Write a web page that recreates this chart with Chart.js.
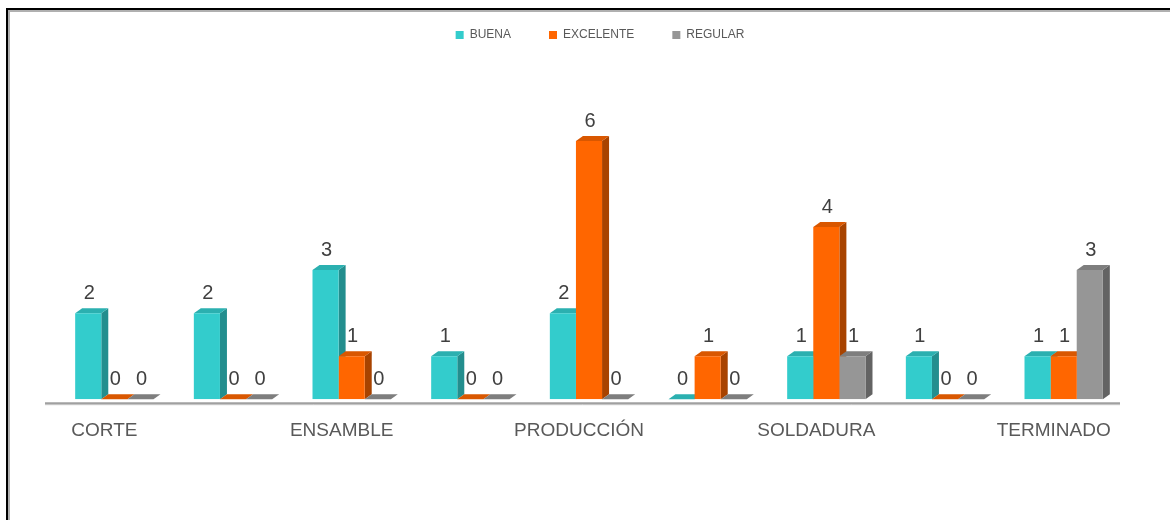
<!DOCTYPE html>
<html>
<head>
<meta charset="utf-8">
<script src="https://cdn.jsdelivr.net/npm/chart.js@4.4.1/dist/chart.umd.min.js"></script>
<style>
  html, body { margin: 0; padding: 0; background: #fff; overflow: hidden; }
  .frame {
    position: absolute; left: 6px; top: 8px; width: 1300px; height: 700px;
    border-left: 2px solid #000; border-top: 2px solid #000;
    box-shadow: inset 2px 2px 0 #b0b0b0;
  }
  .wrap { position: absolute; left: 0; top: 0; width: 1170px; height: 520px; }
</style>
</head>
<body>
<div class="frame"></div>
<div class="wrap"><canvas id="areasChart" width="1170" height="520"></canvas></div>
<script>
// Evaluación por área
const areas = ['CORTE', '', 'ENSAMBLE', '', 'PRODUCCIÓN', '', 'SOLDADURA', '', 'TERMINADO'];
const buena = [2, 2, 3, 1, 2, 0, 1, 1, 1];
const excelente = [0, 0, 1, 0, 6, 1, 4, 0, 1];
const regular = [0, 0, 0, 0, 0, 0, 1, 0, 3];

// front / side / top shades for the fake 3D columns
const shades = [
  { front: '#33CCCC', side: '#238E8E', top: '#2BB0B0' },
  { front: '#FF6600', side: '#A84300', top: '#D95700' },
  { front: '#969696', side: '#636363', top: '#7E7E7E' }
];
const DX = 7, DY = 5;
const FONT = '"Liberation Sans", Arial, sans-serif';

// side and top faces drawn before the fronts so neighbours overlap correctly
const columns3d = {
  id: 'columns3d',
  beforeDatasetsDraw(chart) {
    const ctx = chart.ctx;
    ctx.save();
    chart.data.datasets.forEach((ds, i) => {
      const meta = chart.getDatasetMeta(i);
      meta.data.forEach(bar => {
        const l = bar.x - bar.width / 2, r = bar.x + bar.width / 2;
        const t = bar.y, b = bar.base;
        ctx.fillStyle = shades[i].side;
        ctx.beginPath();
        ctx.moveTo(r, t); ctx.lineTo(r + DX, t - DY);
        ctx.lineTo(r + DX, b - DY); ctx.lineTo(r, b);
        ctx.closePath(); ctx.fill();
        ctx.fillStyle = shades[i].top;
        ctx.beginPath();
        ctx.moveTo(l, t); ctx.lineTo(l + DX, t - DY);
        ctx.lineTo(r + DX, t - DY); ctx.lineTo(r, t);
        ctx.closePath(); ctx.fill();
      });
    });
    ctx.restore();
  },
  afterDatasetsDraw(chart) {
    const ctx = chart.ctx;
    ctx.save();
    ctx.font = '20px ' + FONT;
    ctx.fillStyle = '#404040';
    ctx.textAlign = 'center';
    ctx.textBaseline = 'middle';
    chart.data.datasets.forEach((ds, i) => {
      chart.getDatasetMeta(i).data.forEach((bar, j) => {
        ctx.fillText(String(ds.data[j]), bar.x + 1, bar.y - 20);
      });
    });
    ctx.restore();
  }
};

// floor line slightly below the columns
const floorLine = {
  id: 'floorLine',
  beforeDatasetsDraw(chart) {
    const { ctx, chartArea } = chart;
    ctx.save();
    ctx.strokeStyle = '#c8c8c8';
    ctx.lineWidth = 1;
    ctx.beginPath();
    ctx.moveTo(chartArea.left - 10, chartArea.bottom + 5.5);
    ctx.lineTo(chartArea.right - 3, chartArea.bottom + 5.5);
    ctx.stroke();
    ctx.strokeStyle = '#a0a0a0';
    ctx.lineWidth = 2;
    ctx.beginPath();
    ctx.moveTo(chartArea.left - 10, chartArea.bottom + 4);
    ctx.lineTo(chartArea.right - 3, chartArea.bottom + 4);
    ctx.stroke();
    ctx.restore();
  }
};

// legend sits high with a big gap above the plot
const legendPlace = {
  id: 'legendPlace',
  beforeInit(chart) {
    const legend = chart.legend;
    const fit = legend.fit;
    legend.fit = function () {
      fit.call(this);
      this.height = 98;
    };
    const draw = legend.draw;
    legend.draw = function () {
      const ctx = this.ctx;
      ctx.save();
      ctx.translate(11, -9);
      draw.call(this);
      ctx.restore();
    };
  }
};

new Chart(document.getElementById('areasChart'), {
  type: 'bar',
  data: {
    labels: areas,
    datasets: [
      { label: 'BUENA', data: buena, backgroundColor: shades[0].front },
      { label: 'EXCELENTE', data: excelente, backgroundColor: shades[1].front },
      { label: 'REGULAR', data: regular, backgroundColor: shades[2].front }
    ]
  },
  options: {
    responsive: false,
    animation: false,
    layout: { padding: { left: 55, right: 47, top: 0, bottom: 58 } },
    datasets: { bar: { categoryPercentage: 0.66, barPercentage: 1.0 } },
    plugins: {
      legend: {
        position: 'top',
        labels: {
          boxWidth: 8, boxHeight: 8, padding: 38,
          color: '#595959',
          font: { family: FONT, size: 12 }
        }
      },
      tooltip: { enabled: false }
    },
    scales: {
      x: {
        grid: { display: false, drawTicks: false },
        border: { display: false },
        ticks: {
          autoSkip: false, maxRotation: 0, labelOffset: -10, padding: 20,
          color: '#595959',
          font: { family: FONT, size: 19 }
        }
      },
      y: { display: false, min: 0, max: 7 }
    }
  },
  plugins: [columns3d, floorLine, legendPlace]
});
</script>
</body>
</html>
